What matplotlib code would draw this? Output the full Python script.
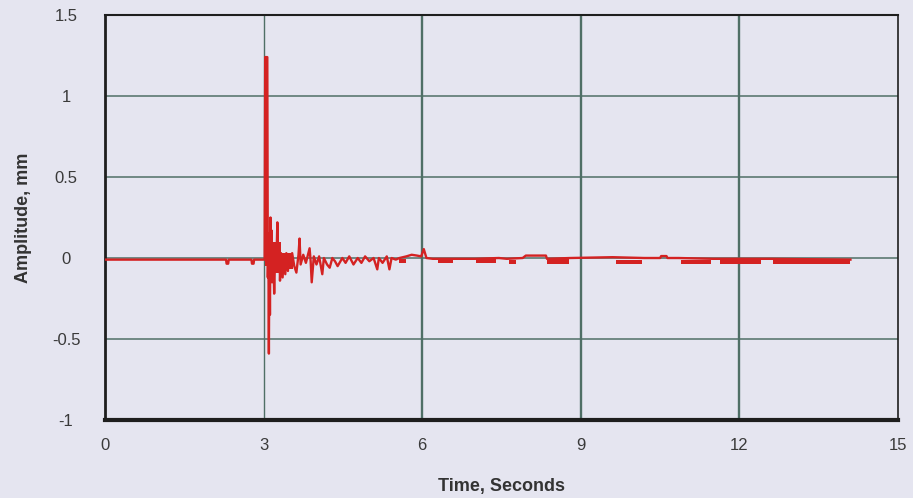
import matplotlib
matplotlib.use("Agg")
import matplotlib.pyplot as plt
import numpy as np

# trace: time [s] and amplitude [mm]
time_s = [0.00, 2.29, 2.30, 2.33, 2.34, 2.77, 2.78, 2.81, 2.82, 3.02,
          3.03, 3.07, 3.08, 3.09, 3.10, 3.11, 3.12, 3.13, 3.14, 3.15,
          3.16, 3.18, 3.20, 3.22, 3.24, 3.26, 3.28, 3.30, 3.31, 3.33,
          3.36, 3.38, 3.41, 3.43, 3.46, 3.48, 3.51, 3.54, 3.58, 3.62,
          3.66, 3.68, 3.70, 3.75, 3.80, 3.87, 3.89, 3.91, 3.95, 4.00,
          4.05, 4.11, 4.14, 4.20, 4.25, 4.30, 4.35, 4.40, 4.49, 4.55,
          4.62, 4.70, 4.78, 4.85, 4.92, 5.00, 5.08, 5.15, 5.18, 5.25,
          5.33, 5.38, 5.42, 5.50, 5.57, 5.70, 5.80, 5.90, 5.98, 6.03,
          6.08, 6.20, 6.60, 7.00, 7.45, 7.60, 7.90, 7.96, 8.34, 8.36,
          8.80, 9.60, 10.20, 10.50, 10.52, 10.62, 10.64, 10.85, 11.50,
          11.60, 12.45, 12.60, 14.10]
amp_mm = [-0.010, -0.010, -0.035, -0.035, -0.010, -0.010, -0.035, -0.035, -0.010, -0.010,
          1.240, 1.240, -0.120, 0.100, -0.590, 0.150, -0.350, 0.250, -0.100, 0.170,
          -0.150, 0.080, -0.220, 0.050, -0.060, 0.220, -0.080, 0.040, -0.140, 0.030,
          -0.120, 0.020, -0.100, 0.030, -0.080, 0.020, -0.060, 0.030, -0.050, -0.090,
          0.020, 0.120, -0.040, 0.020, -0.030, 0.060, -0.020, -0.150, 0.010, -0.040,
          0.010, -0.100, 0.000, -0.040, -0.060, 0.000, -0.020, -0.050, 0.000, -0.030,
          0.010, -0.040, 0.000, -0.030, 0.010, -0.020, 0.000, -0.070, 0.000, -0.030,
          0.010, -0.070, 0.000, -0.010, 0.000, 0.010, 0.020, 0.015, 0.010, 0.055,
          0.000, -0.005, -0.005, -0.005, 0.000, -0.005, 0.000, 0.015, 0.015, -0.005,
          0.000, 0.005, 0.000, 0.000, 0.012, 0.012, 0.000, 0.000, -0.005,
          -0.005, -0.005, -0.005, -0.010]

# dense noisy stretches that print as solid bands
band_start = [3.03, 3.08, 3.32, 5.57, 6.30, 7.02, 7.64, 8.36, 9.66, 10.89, 11.64, 12.64]
band_end = [3.07, 3.32, 3.55, 5.70, 6.58, 7.40, 7.77, 8.77, 10.15, 11.47, 12.40, 14.10]
band_lo = [-0.05, -0.09, -0.07, -0.030, -0.030, -0.030, -0.035, -0.035, -0.035, -0.035, -0.035, -0.035]
band_hi = [1.24, 0.10, 0.03, -0.005, -0.005, -0.005, -0.010, -0.005, -0.010, -0.010, -0.010, -0.010]

x_ticks = [0, 3, 6, 9, 12, 15]
y_ticks = [-1, -0.5, 0, 0.5, 1, 1.5]
y_ticklabels = ["-1", "-0.5", "0", "0.5", "1", "1.5"]

bg = "#e5e5f0"
grid_col = "#4f6f66"
red = "#d42222"

plt.rcParams['font.family'] = ['Liberation Sans', 'DejaVu Sans']

fig = plt.figure(figsize=(9.13, 4.98), dpi=100, facecolor=bg)
ax = fig.add_axes([0.115, 0.1566, 0.8686, 0.8133])
ax.set_facecolor(bg)

for yv in [-0.5, 0, 0.5, 1]:
    ax.axhline(yv, color=grid_col, lw=1.1, zorder=1)
for xv in [3, 6, 9, 12]:
    ax.axvline(xv, color=grid_col, lw=1.0 if xv == 3 else 1.7, zorder=1)

for s, e, lo, hi in zip(band_start, band_end, band_lo, band_hi):
    ax.fill_between([s, e], [lo, lo], [hi, hi], color=red, lw=0, zorder=2)
ax.plot(time_s, amp_mm, color=red, lw=1.7, zorder=3)

ax.set_xlim(0, 15)
ax.set_ylim(-1, 1.5)
ax.set_xticks(x_ticks)
ax.set_yticks(y_ticks)
ax.set_yticklabels(y_ticklabels, ha='center')
ax.tick_params(axis='both', length=0, labelsize=12, colors="#3a3a3a")
ax.tick_params(axis='x', pad=13)
ax.tick_params(axis='y', pad=28)

for side, w in [('left', 2.0), ('top', 1.5), ('bottom', 3.0), ('right', 1.2)]:
    ax.spines[side].set_linewidth(w)
    ax.spines[side].set_color("#1e1e1e")

ax.set_xlabel("Time, Seconds", fontsize=13, fontweight='bold', color="#333333", labelpad=18)
ax.set_ylabel("Amplitude, mm", fontsize=13, fontweight='bold', color="#333333", labelpad=14)

fig.savefig("out.png", dpi=100, facecolor=bg)
